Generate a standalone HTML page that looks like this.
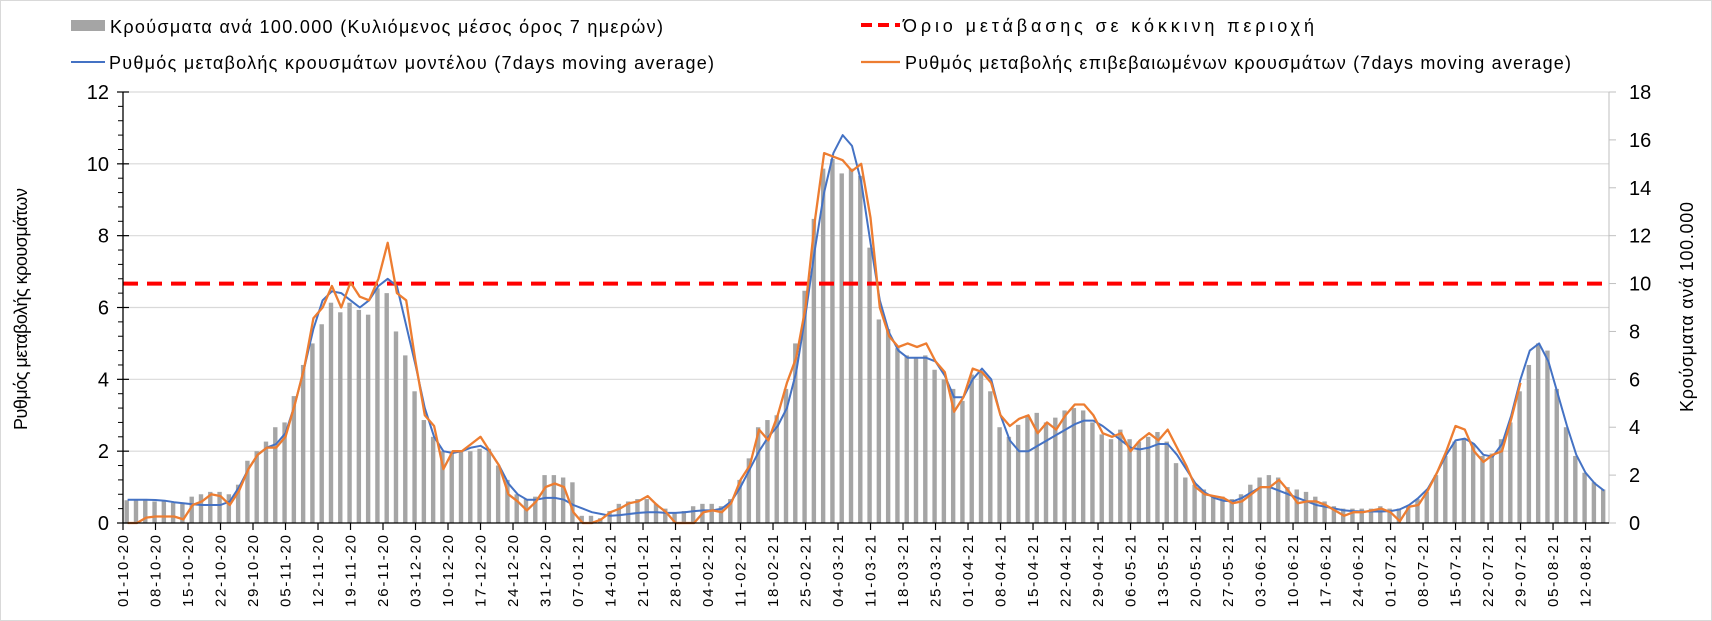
<!DOCTYPE html>
<html><head><meta charset="utf-8">
<style>
html,body{margin:0;padding:0;background:#fff;}
svg{display:block;font-family:"Liberation Sans","DejaVu Sans",sans-serif;}
</style></head>
<body>
<svg id="chart" width="1712" height="621" viewBox="0 0 1712 621" xmlns="http://www.w3.org/2000/svg">
<rect x="0.5" y="0.5" width="1711" height="620" fill="#fff" stroke="#d9d9d9"/>
<g id="grid"></g>
<g id="bars"></g>
<line x1="123" y1="283.6" x2="1609" y2="283.6" stroke="#ff0000" stroke-width="4" stroke-dasharray="15,9"/>
<path id="blueLine" fill="none" stroke="#4472c4" stroke-width="2" stroke-linejoin="round"/>
<path id="orangeLine" fill="none" stroke="#ed7d31" stroke-width="2.3" stroke-linejoin="round"/>
<g id="axes"></g>
<text transform="translate(27,309) rotate(-90)" text-anchor="middle" font-size="18" textLength="242" fill="#000">Ρυθμός μεταβολής κρουσμάτων</text>
<text transform="translate(1693,307) rotate(-90)" text-anchor="middle" font-size="18" textLength="210" fill="#000">Κρούσματα ανά 100.000</text>
<g>
<g>
<rect x="71" y="20" width="34" height="11" fill="#a5a5a5"/>
<text x="110" y="33" font-size="18" textLength="553">Κρούσματα ανά 100.000 (Κυλιόμενος μέσος όρος 7 ημερών)</text>
</g>
<g>
<line x1="861" y1="25" x2="900" y2="25" stroke="#ff0000" stroke-width="4" stroke-dasharray="11,6"/>
<text x="903" y="32" font-size="18" textLength="411">Όριο μετάβασης σε κόκκινη περιοχή</text>
</g>
<g>
<line x1="71" y1="62" x2="105" y2="62" stroke="#4472c4" stroke-width="2"/>
<text x="109" y="69" font-size="18" textLength="605">Ρυθμός μεταβολής κρουσμάτων μοντέλου (7days moving average)</text>
</g>
<g>
<line x1="861" y1="62" x2="900" y2="62" stroke="#ed7d31" stroke-width="2.3"/>
<text x="905" y="69" font-size="18" textLength="666">Ρυθμός μεταβολής επιβεβαιωμένων κρουσμάτων (7days moving average)</text>
</g>
</g>
</svg>
<script>
const sampleStepDays = 2;
const modelRate = [.65,.65,.65,.64,.62,.58,.55,.52,.5,.5,.5,.6,1.0,1.5,1.9,2.1,2.2,2.5,3.3,4.3,5.4,6.2,6.45,6.4,6.2,6.0,6.2,6.6,6.8,6.6,5.5,4.4,3.2,2.4,2.0,1.95,2.0,2.1,2.15,2.0,1.6,1.1,.8,.65,.65,.7,.7,.65,.5,.4,.3,.25,.2,.22,.25,.28,.3,.3,.28,.28,.3,.33,.35,.35,.4,.6,1.0,1.5,2.0,2.4,2.7,3.2,4.2,5.8,7.6,9.2,10.3,10.8,10.5,9.5,7.8,6.2,5.3,4.8,4.6,4.6,4.6,4.5,4.1,3.5,3.5,4.0,4.3,4.0,3.0,2.3,2.0,2.0,2.15,2.3,2.45,2.6,2.75,2.85,2.85,2.7,2.5,2.3,2.1,2.05,2.1,2.2,2.2,1.9,1.5,1.1,.85,.7,.62,.6,.7,.85,1.0,1.0,.9,.8,.7,.6,.5,.45,.4,.35,.33,.32,.32,.32,.33,.38,.5,.7,.95,1.4,1.9,2.3,2.35,2.2,1.9,1.85,2.2,3.0,4.0,4.8,5.0,4.5,3.6,2.7,1.9,1.4,1.1,.9];
const confirmedRate = [0,0,.15,.18,.18,.18,.1,.5,.6,.8,.75,.5,.9,1.5,1.9,2.1,2.1,2.4,3.3,4.3,5.7,6.0,6.6,6.0,6.7,6.3,6.2,6.8,7.8,6.4,6.2,4.5,3.0,2.7,1.5,2.0,2.0,2.2,2.4,2.0,1.6,.8,.6,.35,.6,1.0,1.1,1.0,.3,0,0,.1,.3,.4,.55,.6,.75,.5,.3,0,0,0,.3,.35,.3,.55,1.2,1.6,2.6,2.3,3.0,3.9,4.6,6.0,8.4,10.3,10.2,10.1,9.8,10.0,8.5,6.0,5.2,4.9,5.0,4.9,5.0,4.5,4.2,3.1,3.5,4.3,4.2,3.9,3.0,2.7,2.9,3.0,2.5,2.8,2.6,3.0,3.3,3.3,3.0,2.5,2.4,2.5,2.0,2.3,2.5,2.3,2.6,2.1,1.6,1.0,.8,.75,.7,.55,.6,.8,1.0,1.0,1.2,.9,.55,.6,.6,.5,.35,.2,.3,.3,.35,.4,.3,.05,.45,.5,.9,1.4,2.0,2.7,2.6,2.0,1.7,1.9,2.0,2.9,3.9];
const casesPer100k = [.95,.95,.95,.9,.9,.85,.8,1.1,1.2,1.3,1.3,1.2,1.6,2.6,3.0,3.4,4.0,4.2,5.3,6.6,7.5,8.3,9.2,8.8,9.2,8.9,8.7,9.8,9.6,8.0,7.0,5.5,4.3,3.6,3.0,2.9,3.0,3.0,3.1,3.1,2.4,1.8,1.2,1.0,1.1,2.0,2.0,1.9,1.7,.3,.3,.2,.5,.8,.9,1.0,1.0,.8,.6,.4,.5,.7,.8,.8,.7,1.0,1.8,2.7,4.0,4.3,4.5,5.6,7.5,9.7,12.7,14.8,15.2,14.6,14.8,14.5,11.5,8.5,8.1,7.3,7.0,6.9,7.0,6.4,6.0,5.6,5.1,6.2,6.3,5.5,4.0,3.6,4.1,4.5,4.6,4.2,4.4,4.7,4.8,4.7,4.2,3.7,3.5,3.9,3.5,3.4,3.6,3.8,3.4,2.5,1.9,1.6,1.4,1.1,1.1,1.0,1.2,1.6,1.9,2.0,1.9,1.5,1.4,1.3,1.1,.9,.7,.6,.6,.6,.6,.7,.6,.6,.7,1.0,1.3,2.0,2.8,3.4,3.5,3.3,2.8,2.9,3.5,4.2,5.5,6.6,7.5,7.2,5.6,4.0,2.8,2.1,1.7,1.4];
const leftTicks = [0,2,4,6,8,10,12];
const rightTicks = [0,2,4,6,8,10,12,14,16,18];
const dateLabels = ["01-10-20","08-10-20","15-10-20","22-10-20","29-10-20","05-11-20","12-11-20","19-11-20","26-11-20","03-12-20","10-12-20","17-12-20","24-12-20","31-12-20","07-01-21","14-01-21","21-01-21","28-01-21","04-02-21","11-02-21","18-02-21","25-02-21","04-03-21","11-03-21","18-03-21","25-03-21","01-04-21","08-04-21","15-04-21","22-04-21","29-04-21","06-05-21","13-05-21","20-05-21","27-05-21","03-06-21","10-06-21","17-06-21","24-06-21","01-07-21","08-07-21","15-07-21","22-07-21","29-07-21","05-08-21","12-08-21"];

const NS = "http://www.w3.org/2000/svg";
const X0 = 123, X1 = 1609, Y0 = 523, YT = 92;
const pxPerDay = 4.643;
function xDay(d){ return X0 + d * pxPerDay; }
function yLeft(v){ return Y0 - (v / 12) * (Y0 - YT); }
function yRight(v){ return Y0 - (v / 18) * (Y0 - YT); }
function mk(tag, attrs, parent){
  const e = document.createElementNS(NS, tag);
  for (const k in attrs) e.setAttribute(k, attrs[k]);
  parent.appendChild(e); return e;
}
const grid = document.getElementById('grid');
const axes = document.getElementById('axes');
const barsG = document.getElementById('bars');

leftTicks.forEach(v => {
  if (v > 0) {
    const g = mk('line', {x1:X0, x2:X1, y1:yLeft(v), y2:yLeft(v), stroke:'#d9d9d9', 'stroke-width':1.2}, grid);
    
    
  }
  const t = mk('line', {x1:X0-6, x2:X0+6, y1:yLeft(v), y2:yLeft(v), stroke:'#000', 'stroke-width':1.2}, axes);
  
  
  const lb = mk('text', {x:X0-14, y:yLeft(v)+7, 'text-anchor':'end', 'font-size':20}, axes);
  lb.textContent = v;
  
  
  if (v < 12) {
    for (let k = 1; k < 5; k++) {
      const m = mk('line', {x1:X0-5, x2:X0, y1:yLeft(v+0.4*k), y2:yLeft(v+0.4*k), stroke:'#000', 'stroke-width':1}, axes);
      
      
    }
  }
});
rightTicks.forEach(v => {
  const t = mk('line', {x1:X1, x2:X1+7, y1:yRight(v), y2:yRight(v), stroke:'#bfbfbf', 'stroke-width':1}, axes);
  
  
  const lb = mk('text', {x:X1+20, y:yRight(v)+7, 'font-size':20}, axes);
  lb.textContent = v;
  
  
});

casesPer100k.forEach((v, i) => {
  const d = i * sampleStepDays;
  const y = yRight(v);
  const b = mk('rect', {x:xDay(d)+1.5, y:y, width:4.4, height:Y0-y, fill:'#a5a5a5'}, barsG);
  
  
});

function pathFor(arr){
  return arr.map((v,i) => (i ? 'L' : 'M') + xDay(i*sampleStepDays+1).toFixed(1) + ',' + yLeft(v).toFixed(1)).join(' ');
}
document.getElementById('blueLine').setAttribute('d', pathFor(modelRate));
document.getElementById('orangeLine').setAttribute('d', pathFor(confirmedRate));

const la = mk('line', {x1:X0, x2:X0, y1:YT, y2:Y0, stroke:'#000', 'stroke-width':1.3}, axes);


const ra = mk('line', {x1:X1, x2:X1, y1:YT, y2:Y0, stroke:'#bfbfbf', 'stroke-width':1}, axes);


const xa = mk('line', {x1:X0, x2:X1, y1:Y0, y2:Y0, stroke:'#000', 'stroke-width':1.3}, axes);



dateLabels.forEach((s, i) => {
  const x = xDay(i*7);
  const t = mk('line', {x1:x, x2:x, y1:Y0, y2:Y0+7, stroke:'#000', 'stroke-width':1.2}, axes);
  
  
  const lb = mk('text', {transform:'translate(' + (x+5).toFixed(1) + ',' + (Y0+12) + ') rotate(-90)', 'text-anchor':'end', 'font-size':15, textLength:72}, axes);
  lb.textContent = s;
  
  
});
</script>
</body></html>
